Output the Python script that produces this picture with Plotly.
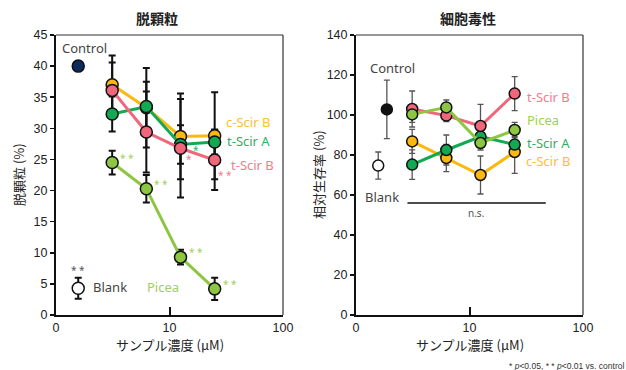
import numpy as np
import plotly.graph_objects as go

# ---------------- data ----------------
conc = [3.125, 6.25, 12.5, 25]          # µM
ref_x_left = 1.57                       # Control / Blank placement (left)
ctrl_x_right = 1.87
blank_x_right = 1.57

# 脱顆粒 (%)
degran_control = 40.0
degran_blank = 4.3
degran_blank_err = 1.7
degran = {
    "c-Scir B": [37.0, 33.3, 28.7, 28.8],
    "t-Scir A": [32.3, 33.5, 27.4, 27.8],
    "t-Scir B": [36.1, 29.4, 26.8, 24.9],
    "Picea":    [24.5, 20.3, 9.3, 4.2],
}
degran_err = {
    "c-Scir B": [4.7, 6.4, 6.9, 7.0],
    "t-Scir A": [2.8, 4.0, 3.1, 2.0],
    "t-Scir B": [4.5, 6.5, 7.9, 4.8],
    "Picea":    [1.9, 2.2, 1.2, 1.8],
}

# 細胞毒性 相対生存率 (%)
viab_control = 102.8
viab_control_err = 14.6
viab_blank = 74.7
viab_blank_err = 6.8
viab = {
    "c-Scir B": [86.8, 78.5, 70.0, 81.5],
    "t-Scir A": [75.2, 82.5, 89.2, 85.2],
    "t-Scir B": [103.0, 99.7, 94.5, 110.7],
    "Picea":    [100.3, 103.8, 86.0, 92.5],
}
viab_err = {
    "c-Scir B": [6.0, 6.8, 9.5, 10.7],
    "t-Scir A": [7.4, 7.5, 4.0, 4.0],
    "t-Scir B": [9.0, 3.0, 10.8, 8.5],
    "Picea":    [4.0, 3.7, 3.5, 3.8],
}
ns_x = [2.84, 47.0]
ns_y = 56.0

colors = {"c-Scir B": "#fbb90f", "t-Scir A": "#13a853", "t-Scir B": "#f0677b", "Picea": "#8dc641"}
label_colors = {"c-Scir B": "#fcc12f", "t-Scir A": "#2bb064", "t-Scir B": "#f27c8d", "Picea": "#9dd05a"}

NUM_FONT = "Liberation Sans, Arial, sans-serif"
LBL_FONT = "Noto Sans, Liberation Sans, sans-serif"
JP_FONT = "Noto Sans CJK JP, sans-serif"

fig = go.Figure()

# ---------- left panel ----------
for name in ["c-Scir B", "t-Scir A", "t-Scir B", "Picea"]:
    fig.add_trace(go.Scatter(x=conc, y=degran[name], mode="markers", xaxis="x", yaxis="y",
                             marker=dict(opacity=0, size=1), showlegend=False, hoverinfo="skip",
                             error_y=dict(type="data", array=degran_err[name], color="#111",
                                          thickness=2, width=3.5)))
fig.add_trace(go.Scatter(x=[ref_x_left], y=[degran_blank], mode="markers", xaxis="x", yaxis="y",
                         marker=dict(opacity=0, size=1), showlegend=False, hoverinfo="skip",
                         error_y=dict(type="data", array=[degran_blank_err], color="#111",
                                      thickness=2, width=3.5)))
for name in ["Picea", "c-Scir B", "t-Scir A", "t-Scir B"]:
    fig.add_trace(go.Scatter(x=conc, y=degran[name], mode="lines+markers", xaxis="x", yaxis="y",
                             line=dict(color=colors[name], width=3),
                             marker=dict(color=colors[name], size=12, line=dict(color="#111", width=1.5)),
                             showlegend=False))
fig.add_trace(go.Scatter(x=[ref_x_left], y=[degran_control], mode="markers", xaxis="x", yaxis="y",
                         marker=dict(color="#0b2c5c", size=12, line=dict(color="#111", width=1.5)),
                         showlegend=False))
fig.add_trace(go.Scatter(x=[ref_x_left], y=[degran_blank], mode="markers", xaxis="x", yaxis="y",
                         marker=dict(color="white", size=12, line=dict(color="#111", width=1.5)),
                         showlegend=False))

# ---------- right panel ----------
for name in ["c-Scir B", "t-Scir A", "t-Scir B", "Picea"]:
    fig.add_trace(go.Scatter(x=conc, y=viab[name], mode="markers", xaxis="x2", yaxis="y2",
                             marker=dict(opacity=0, size=1), showlegend=False, hoverinfo="skip",
                             error_y=dict(type="data", array=viab_err[name], color="#555",
                                          thickness=1.3, width=3)))
fig.add_trace(go.Scatter(x=[ctrl_x_right, blank_x_right], y=[viab_control, viab_blank], mode="markers",
                         xaxis="x2", yaxis="y2", marker=dict(opacity=0, size=1), showlegend=False,
                         hoverinfo="skip",
                         error_y=dict(type="data", array=[viab_control_err, viab_blank_err],
                                      color="#555", thickness=1.3, width=3)))
fig.add_trace(go.Scatter(x=ns_x, y=[ns_y, ns_y], mode="lines", xaxis="x2", yaxis="y2",
                         line=dict(color="#111", width=1.5), showlegend=False, hoverinfo="skip"))
for name in ["c-Scir B", "t-Scir A", "t-Scir B", "Picea"]:
    fig.add_trace(go.Scatter(x=conc, y=viab[name], mode="lines+markers", xaxis="x2", yaxis="y2",
                             line=dict(color=colors[name], width=3),
                             marker=dict(color=colors[name], size=11, line=dict(color="#111", width=1.5)),
                             showlegend=False))
fig.add_trace(go.Scatter(x=[ctrl_x_right], y=[viab_control], mode="markers", xaxis="x2", yaxis="y2",
                         marker=dict(color="#111", size=11, line=dict(color="#111", width=1.5)),
                         showlegend=False))
fig.add_trace(go.Scatter(x=[blank_x_right], y=[viab_blank], mode="markers", xaxis="x2", yaxis="y2",
                         marker=dict(color="white", size=11, line=dict(color="#111", width=1.5)),
                         showlegend=False))

# ---------- axes ----------
W, H = 626, 370
xdom_l = [56 / W, 283 / W]
xdom_r = [356 / W, 583 / W]
ydom = [1 - 315 / H, 1 - 35 / H]

xcommon = dict(type="log", range=[0, 2], tickvals=[1, 10, 100], ticktext=["0", "10", "100"],
               ticks="inside", ticklen=8, tickwidth=2, tickcolor="#111", automargin=False,
               showline=True, linewidth=2, linecolor="#111", showgrid=False, zeroline=False,
               tickfont=dict(family=NUM_FONT, size=12.5, color="#222"))
ycommon = dict(ticks="outside", ticklen=4, tickwidth=1.5, tickcolor="#111", automargin=False,
               showline=True, linewidth=2, linecolor="#111", showgrid=False, zeroline=False,
               tickfont=dict(family=NUM_FONT, size=12.5, color="#222"))

fig.update_layout(
    template="none",
    width=W, height=H, margin=dict(l=0, r=0, t=0, b=0, pad=0),
    paper_bgcolor="white", plot_bgcolor="white", showlegend=False,
    xaxis=dict(domain=xdom_l, anchor="y", **xcommon),
    yaxis=dict(domain=ydom, anchor="x", range=[0, 45], tickvals=list(range(0, 46, 5)), **ycommon),
    xaxis2=dict(domain=xdom_r, anchor="y2", **xcommon),
    yaxis2=dict(domain=ydom, anchor="x2", range=[0, 140], tickvals=list(range(0, 141, 20)), **ycommon),
)

# top/right frame lines
shapes = []
for xd, yd in [("x domain", "y domain"), ("x2 domain", "y2 domain")]:
    shapes.append(dict(type="line", xref=xd, yref=yd, x0=0, x1=1, y0=1, y1=1,
                       line=dict(color="#333", width=1.2)))
    shapes.append(dict(type="line", xref=xd, yref=yd, x0=1, x1=1, y0=0, y1=1,
                       line=dict(color="#333", width=1.2)))
fig.update_layout(shapes=shapes)

ann = []
def txt(x, y, text, color, xref="x", yref="y", size=13, family=LBL_FONT, **kw):
    ann.append(dict(x=np.log10(x), y=y, xref=xref, yref=yref, text=text, showarrow=False,
                    font=dict(family=family, size=size, color=color), **kw))

def ptxt(xp, yp, text, size, family=JP_FONT, color="#222", angle=0):
    ann.append(dict(x=xp / W, y=1 - yp / H, xref="paper", yref="paper", text=text, showarrow=False,
                    xanchor="center", yanchor="middle",
                    textangle=angle, font=dict(family=family, size=size, color=color)))

ptxt(157, 18, "<b>脱顆粒</b>", 14)
ptxt(468, 18, "<b>細胞毒性</b>", 14)
ptxt(170, 344, "サンプル濃度 (µM)", 13)
ptxt(470, 344, "サンプル濃度 (µM)", 13)
ptxt(18, 175, "脱顆粒 (%)", 13, angle=-90)
ptxt(318, 175, "相対生存率 (%)", 13, angle=-90)

# left labels
txt(1.80, 42.9, "Control", "#444")
txt(49.5, 31.0, "c-Scir B", label_colors["c-Scir B"])
txt(49.5, 28.0, "t-Scir A", label_colors["t-Scir A"])
txt(53.7, 24.1, "t-Scir B", label_colors["t-Scir B"])
txt(3.0, 4.45, "Blank", "#444")
txt(8.8, 4.45, "Picea", label_colors["Picea"])

# significance stars (left)
star_font = 10
for xv, yv in zip(conc, degran["Picea"]):
    txt(xv, yv, "* *", label_colors["Picea"], size=star_font, xshift=15, yshift=5)
txt(conc[2], degran["t-Scir B"][2], "*", label_colors["t-Scir B"], size=star_font, xshift=8, yshift=-11)
txt(conc[2], degran["t-Scir A"][2], "*", label_colors["t-Scir A"], size=star_font, xshift=15, yshift=-5)
txt(conc[3], degran["t-Scir B"][3], "* *", label_colors["t-Scir B"], size=star_font, xshift=10, yshift=-15)
txt(ref_x_left, degran_blank, "* *", "#555", size=star_font, yshift=18)

# right labels
txt(2.11, 123.3, "Control", "#444", xref="x2", yref="y2")
txt(49.5, 109.2, "t-Scir B", label_colors["t-Scir B"], xref="x2", yref="y2")
txt(44.7, 97.5, "Picea", label_colors["Picea"], xref="x2", yref="y2")
txt(49.5, 86.2, "t-Scir A", label_colors["t-Scir A"], xref="x2", yref="y2")
txt(49.5, 77.0, "c-Scir B", label_colors["c-Scir B"], xref="x2", yref="y2")
txt(1.70, 59.2, "Blank", "#444", xref="x2", yref="y2")
txt(11.5, 51.2, "n.s.", "#555", xref="x2", yref="y2", size=10)

# footnote
ann.append(dict(x=1, y=1 - 366 / H, xref="paper", yref="paper", xanchor="right", yanchor="middle",
                text="* <i>p</i>&lt;0.05, * * <i>p</i>&lt;0.01 vs. control", showarrow=False,
                font=dict(family=NUM_FONT, size=8.5, color="#333")))

fig.update_layout(annotations=ann)
fig.write_html("out.html", config={"displayModeBar": False, "staticPlot": True},
               post_script="document.body.style.margin='0';document.body.style.overflow='hidden';")
